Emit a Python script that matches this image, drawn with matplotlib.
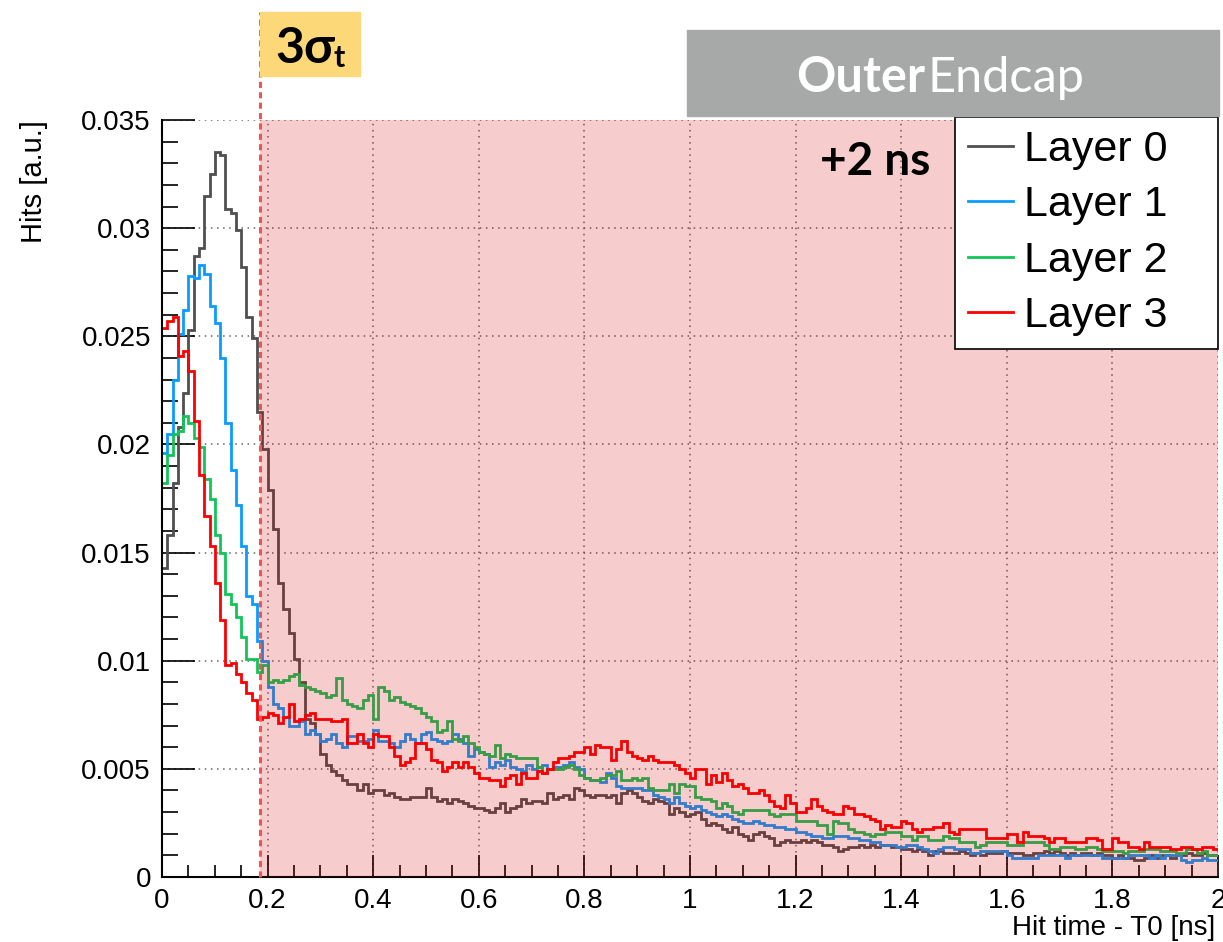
import numpy as np
import matplotlib
matplotlib.use('Agg')
import matplotlib.pyplot as plt
from matplotlib.ticker import MultipleLocator, FuncFormatter
from matplotlib.patches import Rectangle
import matplotlib.transforms as mtransforms

# bin edges: 200 bins of 0.01 ns between 0 and 2 ns
edges = np.linspace(0, 2, 201)
cut = 0.185  # 3 sigma_t

layer0 = [
    0.0143, 0.0158, 0.0182, 0.0208, 0.0224, 0.0253, 0.0287, 0.0291, 0.0315, 0.0325,
    0.0335, 0.0334, 0.0309, 0.0307, 0.0299, 0.0282, 0.0259, 0.0249, 0.0215, 0.0198,
    0.0179, 0.0161, 0.0136, 0.0124, 0.0113, 0.0101, 0.0090, 0.0073, 0.0071, 0.0066,
    0.0057, 0.0052, 0.0049, 0.0047, 0.0045, 0.0043, 0.0043, 0.0040, 0.0043, 0.0039,
    0.0040, 0.0040, 0.0038, 0.0039, 0.0037, 0.0036, 0.0036, 0.0037, 0.0037, 0.0037,
    0.0041, 0.0037, 0.0035, 0.0036, 0.0034, 0.0036, 0.0035, 0.0034, 0.0033, 0.0032,
    0.0032, 0.0031, 0.0030, 0.0032, 0.0034, 0.0030, 0.0032, 0.0033, 0.0036, 0.0034,
    0.0035, 0.0035, 0.0034, 0.0039, 0.0036, 0.0037, 0.0038, 0.0036, 0.0041, 0.0040,
    0.0038, 0.0037, 0.0038, 0.0038, 0.0037, 0.0038, 0.0034, 0.0039, 0.0040, 0.0039,
    0.0037, 0.0035, 0.0034, 0.0036, 0.0035, 0.0034, 0.0029, 0.0032, 0.0030, 0.0028,
    0.0029, 0.0030, 0.0027, 0.0024, 0.0025, 0.0024, 0.0022, 0.0021, 0.0023, 0.0020,
    0.0019, 0.0017, 0.0020, 0.0021, 0.0019, 0.0018, 0.0015, 0.0016, 0.0017, 0.0016,
    0.0016, 0.0017, 0.0016, 0.0017, 0.0016, 0.0015, 0.0015, 0.0014, 0.0012, 0.0013,
    0.0014, 0.0014, 0.0015, 0.0014, 0.0015, 0.0014, 0.0015, 0.0015, 0.0014, 0.0014,
    0.0013, 0.0013, 0.0012, 0.0013, 0.0012, 0.0010, 0.0012, 0.0012, 0.0011, 0.0011,
    0.0011, 0.0012, 0.0011, 0.0010, 0.0011, 0.0010, 0.0011, 0.0011, 0.0011, 0.0012,
    0.0011, 0.0011, 0.0011, 0.0010, 0.0010, 0.0011, 0.0011, 0.0012, 0.0011, 0.0012,
    0.0011, 0.0010, 0.0011, 0.0010, 0.0011, 0.0011, 0.0010, 0.0011, 0.0010, 0.0010,
    0.0009, 0.0010, 0.0009, 0.0009, 0.0008, 0.0008, 0.0009, 0.0010, 0.0009, 0.0010,
    0.0010, 0.0009, 0.0010, 0.0010, 0.0011, 0.0010, 0.0010, 0.0011, 0.0010, 0.0010,
]

layer1 = [
    0.0196, 0.0205, 0.0230, 0.0251, 0.0262, 0.0278, 0.0277, 0.0283, 0.0279, 0.0264,
    0.0256, 0.0240, 0.0210, 0.0188, 0.0172, 0.0153, 0.0130, 0.0126, 0.0109, 0.0100,
    0.0088, 0.0080, 0.0078, 0.0074, 0.0070, 0.0070, 0.0072, 0.0066, 0.0068, 0.0066,
    0.0063, 0.0064, 0.0066, 0.0062, 0.0060, 0.0065, 0.0065, 0.0063, 0.0063, 0.0064,
    0.0068, 0.0063, 0.0063, 0.0062, 0.0060, 0.0063, 0.0066, 0.0064, 0.0062, 0.0066,
    0.0067, 0.0064, 0.0063, 0.0062, 0.0063, 0.0066, 0.0064, 0.0062, 0.0056, 0.0059,
    0.0058, 0.0057, 0.0051, 0.0053, 0.0052, 0.0054, 0.0051, 0.0050, 0.0049, 0.0052,
    0.0050, 0.0051, 0.0052, 0.0050, 0.0051, 0.0051, 0.0052, 0.0053, 0.0051, 0.0050,
    0.0046, 0.0045, 0.0045, 0.0044, 0.0048, 0.0046, 0.0042, 0.0041, 0.0041, 0.0041,
    0.0041, 0.0040, 0.0040, 0.0038, 0.0037, 0.0036, 0.0034, 0.0037, 0.0034, 0.0033,
    0.0032, 0.0033, 0.0031, 0.0030, 0.0029, 0.0028, 0.0029, 0.0028, 0.0027, 0.0026,
    0.0025, 0.0025, 0.0026, 0.0025, 0.0024, 0.0024, 0.0023, 0.0023, 0.0022, 0.0022,
    0.0021, 0.0021, 0.0020, 0.0019, 0.0019, 0.0018, 0.0018, 0.0019, 0.0019, 0.0019,
    0.0018, 0.0018, 0.0017, 0.0017, 0.0016, 0.0016, 0.0015, 0.0015, 0.0015, 0.0014,
    0.0014, 0.0015, 0.0015, 0.0014, 0.0013, 0.0012, 0.0011, 0.0013, 0.0014, 0.0014,
    0.0013, 0.0013, 0.0013, 0.0011, 0.0011, 0.0012, 0.0012, 0.0012, 0.0012, 0.0012,
    0.0010, 0.0009, 0.0009, 0.0009, 0.0009, 0.0009, 0.0010, 0.0010, 0.0010, 0.0010,
    0.0010, 0.0009, 0.0010, 0.0010, 0.0010, 0.0010, 0.0010, 0.0010, 0.0009, 0.0009,
    0.0009, 0.0009, 0.0009, 0.0010, 0.0010, 0.0010, 0.0010, 0.0009, 0.0010, 0.0009,
    0.0010, 0.0010, 0.0010, 0.0008, 0.0007, 0.0008, 0.0008, 0.0009, 0.0008, 0.0008,
]

layer2 = [
    0.0182, 0.0195, 0.0205, 0.0206, 0.0213, 0.0210, 0.0203, 0.0199, 0.0184, 0.0175,
    0.0158, 0.0150, 0.0131, 0.0126, 0.0120, 0.0111, 0.0101, 0.0101, 0.0095, 0.0098,
    0.0090, 0.0091, 0.0090, 0.0091, 0.0093, 0.0094, 0.0089, 0.0088, 0.0087, 0.0086,
    0.0085, 0.0083, 0.0084, 0.0092, 0.0082, 0.0080, 0.0079, 0.0078, 0.0082, 0.0084,
    0.0073, 0.0088, 0.0086, 0.0082, 0.0083, 0.0081, 0.0080, 0.0079, 0.0078, 0.0076,
    0.0074, 0.0072, 0.0067, 0.0068, 0.0072, 0.0064, 0.0063, 0.0065, 0.0062, 0.0060,
    0.0058, 0.0057, 0.0056, 0.0061, 0.0055, 0.0057, 0.0056, 0.0055, 0.0055, 0.0055,
    0.0055, 0.0051, 0.0048, 0.0050, 0.0050, 0.0050, 0.0051, 0.0052, 0.0050, 0.0047,
    0.0046, 0.0045, 0.0045, 0.0046, 0.0047, 0.0047, 0.0049, 0.0045, 0.0045, 0.0046,
    0.0045, 0.0046, 0.0041, 0.0040, 0.0040, 0.0040, 0.0043, 0.0039, 0.0043, 0.0042,
    0.0042, 0.0037, 0.0036, 0.0036, 0.0035, 0.0032, 0.0034, 0.0033, 0.0030, 0.0029,
    0.0031, 0.0031, 0.0031, 0.0031, 0.0031, 0.0029, 0.0028, 0.0029, 0.0029, 0.0029,
    0.0026, 0.0026, 0.0026, 0.0026, 0.0024, 0.0024, 0.0020, 0.0026, 0.0025, 0.0025,
    0.0022, 0.0021, 0.0021, 0.0020, 0.0019, 0.0020, 0.0020, 0.0021, 0.0021, 0.0021,
    0.0019, 0.0019, 0.0017, 0.0019, 0.0019, 0.0017, 0.0017, 0.0017, 0.0019, 0.0018,
    0.0018, 0.0016, 0.0016, 0.0016, 0.0014, 0.0015, 0.0016, 0.0016, 0.0016, 0.0016,
    0.0015, 0.0015, 0.0015, 0.0016, 0.0016, 0.0016, 0.0016, 0.0015, 0.0013, 0.0013,
    0.0014, 0.0014, 0.0014, 0.0013, 0.0013, 0.0014, 0.0014, 0.0013, 0.0012, 0.0012,
    0.0012, 0.0012, 0.0011, 0.0012, 0.0012, 0.0012, 0.0013, 0.0013, 0.0013, 0.0012,
    0.0012, 0.0012, 0.0011, 0.0011, 0.0013, 0.0013, 0.0011, 0.0012, 0.0010, 0.0010,
]

layer3 = [
    0.0254, 0.0257, 0.0259, 0.0241, 0.0243, 0.0234, 0.0211, 0.0186, 0.0167, 0.0153,
    0.0136, 0.0119, 0.0098, 0.0099, 0.0094, 0.0090, 0.0085, 0.0082, 0.0073, 0.0074,
    0.0076, 0.0075, 0.0071, 0.0074, 0.0080, 0.0072, 0.0073, 0.0075, 0.0076, 0.0073,
    0.0073, 0.0073, 0.0072, 0.0072, 0.0073, 0.0062, 0.0062, 0.0066, 0.0062, 0.0060,
    0.0066, 0.0065, 0.0065, 0.0060, 0.0056, 0.0052, 0.0053, 0.0055, 0.0062, 0.0062,
    0.0059, 0.0054, 0.0053, 0.0049, 0.0051, 0.0053, 0.0051, 0.0053, 0.0051, 0.0048,
    0.0046, 0.0046, 0.0045, 0.0045, 0.0042, 0.0046, 0.0047, 0.0043, 0.0048, 0.0046,
    0.0046, 0.0049, 0.0048, 0.0050, 0.0053, 0.0055, 0.0055, 0.0056, 0.0058, 0.0058,
    0.0060, 0.0057, 0.0061, 0.0060, 0.0060, 0.0054, 0.0059, 0.0063, 0.0058, 0.0056,
    0.0055, 0.0054, 0.0056, 0.0054, 0.0053, 0.0053, 0.0053, 0.0052, 0.0050, 0.0048,
    0.0046, 0.0050, 0.0050, 0.0043, 0.0047, 0.0044, 0.0048, 0.0045, 0.0042, 0.0043,
    0.0041, 0.0039, 0.0039, 0.0040, 0.0038, 0.0035, 0.0033, 0.0032, 0.0038, 0.0034,
    0.0030, 0.0030, 0.0032, 0.0036, 0.0033, 0.0031, 0.0030, 0.0029, 0.0029, 0.0033,
    0.0032, 0.0029, 0.0029, 0.0028, 0.0027, 0.0026, 0.0022, 0.0024, 0.0023, 0.0023,
    0.0026, 0.0025, 0.0022, 0.0021, 0.0022, 0.0022, 0.0023, 0.0023, 0.0025, 0.0021,
    0.0020, 0.0022, 0.0022, 0.0022, 0.0022, 0.0022, 0.0018, 0.0018, 0.0018, 0.0018,
    0.0020, 0.0020, 0.0016, 0.0021, 0.0019, 0.0019, 0.0019, 0.0018, 0.0016, 0.0018,
    0.0018, 0.0016, 0.0016, 0.0016, 0.0016, 0.0018, 0.0018, 0.0017, 0.0013, 0.0013,
    0.0018, 0.0016, 0.0016, 0.0014, 0.0014, 0.0013, 0.0016, 0.0014, 0.0014, 0.0014,
    0.0014, 0.0013, 0.0013, 0.0014, 0.0014, 0.0013, 0.0013, 0.0014, 0.0014, 0.0013,
]

labels = ['Layer 0', 'Layer 1', 'Layer 2', 'Layer 3']
colors = ['#4f4f4f', '#0a9bff', '#12c458', '#ff0000']

W, H = 1223, 942
fig = plt.figure(figsize=(W / 100, H / 100), dpi=100)
ax = fig.add_axes([162 / W, 1 - 877 / H, 1056 / W, 757 / H])

root_font = 'Liberation Sans'
deco_font = ['Lato', 'Open Sans', 'DejaVu Sans']

for vals, lab, col in zip([layer0, layer1, layer2, layer3], labels, colors):
    ax.stairs(vals, edges, color=col, lw=2.0, label=lab, baseline=None, zorder=2)

ax.set_xlim(0, 2)
ax.set_ylim(0, 0.035)

# shaded region beyond 3 sigma_t (drawn over the histograms)
ax.axvspan(cut, 2, color=(0.85, 0.0, 0.0), alpha=0.2, lw=0, zorder=3)
trans = mtransforms.blended_transform_factory(ax.transData, ax.transAxes)
ax.plot([cut, cut], [0, 1 + 108 / 757], transform=trans, clip_on=False,
        color='#ee5555', lw=2.2, ls=(0, (2.0, 1.4)), zorder=4)

ax.xaxis.set_major_locator(MultipleLocator(0.2))
ax.xaxis.set_minor_locator(MultipleLocator(0.05))
ax.yaxis.set_major_locator(MultipleLocator(0.005))
ax.yaxis.set_minor_locator(MultipleLocator(0.001))
fmt = FuncFormatter(lambda v, p: '%g' % round(v, 4))
ax.xaxis.set_major_formatter(fmt)
ax.yaxis.set_major_formatter(fmt)

ax.grid(True, which='major', ls=(0, (1, 3)), color='#666666', lw=1.1)
ax.set_axisbelow(True)
ax.tick_params(axis='y', which='major', direction='in', length=24, width=1.2, pad=8,
               labelsize=20)
ax.tick_params(axis='y', which='minor', direction='in', length=11.5, width=1.2)
ax.tick_params(axis='x', which='major', direction='in', length=16, width=1.2, pad=8,
               labelsize=20)
ax.tick_params(axis='x', which='minor', direction='in', length=8.5, width=1.2)
for t in ax.get_xticklabels() + ax.get_yticklabels():
    t.set_fontfamily(root_font)
ax.spines['top'].set_visible(False)
ax.spines['right'].set_visible(False)
ax.spines['left'].set_linewidth(1.5)
ax.spines['bottom'].set_linewidth(1.5)

ax.set_xlabel('Hit time - T0 [ns]', fontsize=20, fontfamily=root_font, loc='right')
ax.xaxis.set_label_coords(0.997, -0.05)
ax.set_ylabel('Hits [a.u.]', fontsize=21, fontfamily=root_font, loc='top')
ax.yaxis.set_label_coords(-0.108, 1.0)

# legend box spans px 955..1218 horizontally, 117..345 vertically
leg = ax.legend(loc='upper left', bbox_to_anchor=(793 / 1056, 0.703, 263 / 1056, 0.301),
                mode='expand', frameon=True, fancybox=False, framealpha=1,
                edgecolor='black', borderaxespad=0, handlelength=1.05,
                handletextpad=0.25, labelspacing=0.36, borderpad=0.3,
                prop={'family': root_font, 'size': 31})
leg.get_frame().set_linewidth(1.2)
leg.set_zorder(6)
for line in leg.get_lines():
    line.set_linewidth(2.0)

# "3 sigma_t" label
fig.patches.append(Rectangle((260 / W, 1 - 76 / H), 100 / W, 64 / H,
                             transform=fig.transFigure, color='#fdd878', zorder=5))
fig.text(275 / W, 1 - 63 / H, '3σ', fontsize=36, fontweight='bold',
         family=deco_font, ha='left', va='baseline', zorder=6)
fig.text(333 / W, 1 - 67 / H, 't', fontsize=22, fontweight='bold',
         family=deco_font, ha='left', va='baseline', zorder=6)

# region box
fig.patches.append(Rectangle((687 / W, 1 - 116 / H), 532 / W, 86 / H,
                             transform=fig.transFigure, color='#a6a9a8', zorder=5))
fig.text(925 / W, 1 - 92 / H, 'Outer', fontsize=35, fontweight='bold', color='white',
         family=deco_font, ha='right', va='baseline', zorder=6)
fig.text(927 / W, 1 - 92 / H, 'Endcap', fontsize=35, color='white',
         family=deco_font, ha='left', va='baseline', zorder=6)

fig.text(930 / W, 1 - 175 / H, '+2 ns', fontsize=33, fontweight='bold',
         family=deco_font, ha='right', va='baseline', zorder=6)

fig.savefig('out.png', dpi=100)
